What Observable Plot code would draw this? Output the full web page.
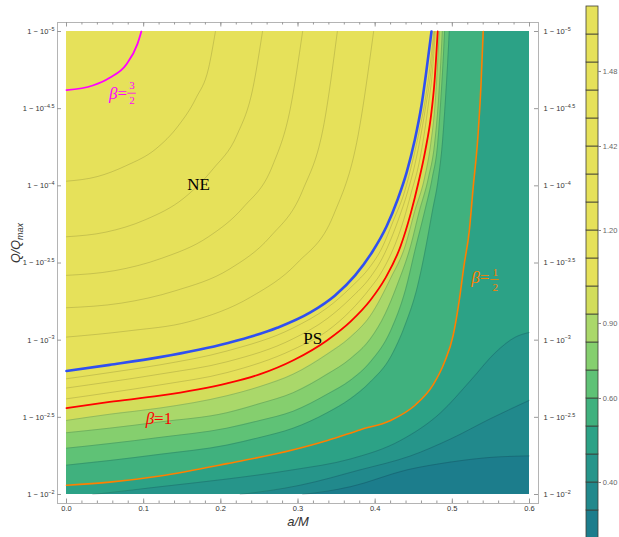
<!DOCTYPE html>
<html><head><meta charset="utf-8">
<script src="https://cdn.jsdelivr.net/npm/d3@7"></script>
<script src="https://cdn.jsdelivr.net/npm/@observablehq/plot@0.6"></script>
<style>
body{margin:0;background:#fff;}
#wrap{position:relative;width:619px;height:537px;overflow:hidden;}
#main{position:absolute;left:0;top:0;}
#bar{position:absolute;left:580px;top:0;}
</style></head><body><div id="wrap"><div id="main"></div><div id="bar"></div></div>
<script>
// ---------- axes ----------
const xDomain = [0, 0.6];
const yDomain = [2, 5];               // exponent u in Q/Qmax = 1 - 10^(-u)
const xTicks = [0, 0.1, 0.2, 0.3, 0.4, 0.5, 0.6];
const xTickLabels = ["0.0", "0.1", "0.2", "0.3", "0.4", "0.5", "0.6"];
const xMinorTicks = d3.range(0, 0.6001, 0.02);
const yTicks = [2, 2.5, 3, 3.5, 4, 4.5, 5];
const yTickLabels = ["1 − 10^{−2}", "1 − 10^{−2.5}", "1 − 10^{−3}", "1 − 10^{−3.5}", "1 − 10^{−4}", "1 − 10^{−4.5}", "1 − 10^{−5}"];

// ---------- contour curves (a/M , u) ----------
const magentaA = [0, 0.034, 0.056, 0.078, 0.092, 0.097];
const magentaU = [4.62, 4.65, 4.70, 4.79, 4.92, 5.0];

const t1A = [0, 0.040, 0.077, 0.116, 0.145, 0.168, 0.184, 0.193];
const t1U = [4.03, 4.06, 4.13, 4.24, 4.39, 4.57, 4.76, 5.0];
const t2A = [0, 0.051, 0.102, 0.152, 0.190, 0.221, 0.241, 0.254];
const t2U = [3.67, 3.70, 3.78, 3.92, 4.11, 4.33, 4.62, 5.0];
const t3A = [0, 0.062, 0.123, 0.184, 0.229, 0.267, 0.290, 0.306];
const t3U = [3.42, 3.45, 3.53, 3.67, 3.86, 4.13, 4.50, 5.0];
const t4A = [0, 0.071, 0.141, 0.211, 0.264, 0.306, 0.334, 0.351];
const t4U = [3.21, 3.24, 3.32, 3.46, 3.67, 3.97, 4.41, 5.0];
const t5A = [0, 0.080, 0.159, 0.239, 0.299, 0.346, 0.378, 0.398];
const t5U = [3.02, 3.06, 3.12, 3.28, 3.50, 3.81, 4.33, 5.0];

const blueA = [0, 0.056, 0.121, 0.208, 0.273, 0.316, 0.348, 0.374, 0.396, 0.415, 0.429, 0.441, 0.451, 0.460, 0.466, 0.473];
const blueU = [2.80, 2.84, 2.89, 2.98, 3.08, 3.18, 3.29, 3.42, 3.57, 3.74, 3.91, 4.09, 4.29, 4.52, 4.73, 5.0];

const t6A = [0, 0.056, 0.121, 0.208, 0.294, 0.338, 0.368, 0.394, 0.407, 0.424, 0.438, 0.448, 0.457, 0.464, 0.470, 0.476];
const t6U = [2.75, 2.79, 2.84, 2.93, 3.08, 3.21, 3.34, 3.48, 3.58, 3.78, 3.96, 4.15, 4.35, 4.53, 4.73, 5.0];
const t7A = [0, 0.056, 0.121, 0.208, 0.294, 0.338, 0.368, 0.394, 0.407, 0.430, 0.442, 0.452, 0.460, 0.466, 0.472, 0.477];
const t7U = [2.69, 2.73, 2.78, 2.86, 3.01, 3.14, 3.27, 3.41, 3.51, 3.78, 3.96, 4.15, 4.35, 4.53, 4.73, 5.0];
const t8A = [0, 0.056, 0.121, 0.208, 0.294, 0.338, 0.368, 0.394, 0.407, 0.437, 0.447, 0.457, 0.464, 0.469, 0.474, 0.478];
const t8U = [2.62, 2.66, 2.71, 2.79, 2.94, 3.06, 3.19, 3.34, 3.43, 3.78, 3.96, 4.15, 4.35, 4.53, 4.73, 5.0];

const redA = [0, 0.056, 0.121, 0.208, 0.251, 0.294, 0.338, 0.368, 0.394, 0.413, 0.433, 0.446, 0.456, 0.465, 0.472, 0.477, 0.481];
const redU = [2.56, 2.60, 2.64, 2.72, 2.78, 2.87, 3.00, 3.12, 3.26, 3.40, 3.61, 3.82, 4.02, 4.23, 4.44, 4.68, 5.0];

const c1A = [0, 0.056, 0.121, 0.208, 0.251, 0.294, 0.338, 0.368, 0.394, 0.420, 0.439, 0.451, 0.464, 0.472, 0.478, 0.481, 0.483];
const c1U = [2.48, 2.52, 2.56, 2.64, 2.70, 2.78, 2.91, 3.02, 3.16, 3.40, 3.61, 3.83, 4.05, 4.27, 4.55, 4.80, 5.0];
const c2A = [0, 0.056, 0.121, 0.208, 0.251, 0.294, 0.338, 0.368, 0.394, 0.413, 0.428, 0.446, 0.457, 0.469, 0.477, 0.482, 0.485, 0.487];
const c2U = [2.40, 2.43, 2.47, 2.53, 2.59, 2.66, 2.78, 2.88, 3.01, 3.17, 3.35, 3.61, 3.83, 4.05, 4.27, 4.55, 4.80, 5.0];
const c3A = [0, 0.056, 0.121, 0.208, 0.251, 0.294, 0.338, 0.368, 0.394, 0.420, 0.439, 0.453, 0.464, 0.474, 0.481, 0.485, 0.488, 0.490];
const c3U = [2.30, 2.33, 2.37, 2.43, 2.48, 2.54, 2.65, 2.74, 2.86, 3.06, 3.32, 3.61, 3.83, 4.05, 4.27, 4.55, 4.80, 5.0];
const c4A = [0, 0.056, 0.121, 0.208, 0.251, 0.294, 0.338, 0.368, 0.394, 0.420, 0.439, 0.455, 0.466, 0.474, 0.482, 0.487, 0.491, 0.494, 0.496];
const c4U = [2.19, 2.22, 2.26, 2.32, 2.37, 2.43, 2.53, 2.62, 2.73, 2.89, 3.10, 3.35, 3.61, 3.83, 4.05, 4.27, 4.55, 4.80, 5.0];

const orangeA = [0, 0.056, 0.121, 0.208, 0.294, 0.338, 0.381, 0.420, 0.452, 0.475, 0.490, 0.501, 0.509, 0.515, 0.522, 0.527, 0.533, 0.537, 0.540];
const orangeU = [2.06, 2.08, 2.12, 2.20, 2.29, 2.35, 2.42, 2.48, 2.58, 2.71, 2.86, 3.03, 3.26, 3.48, 3.71, 3.99, 4.31, 4.64, 5.0];

const c6A = [0.034, 0.121, 0.208, 0.294, 0.368, 0.433, 0.485, 0.524, 0.556, 0.582, 0.6];
const c6U = [2.0, 2.05, 2.10, 2.16, 2.23, 2.35, 2.53, 2.74, 2.92, 3.02, 3.05];
const c7A = [0.225, 0.303, 0.381, 0.446, 0.498, 0.549, 0.6];
const c7U = [2.0, 2.06, 2.16, 2.25, 2.36, 2.49, 2.61];
const c8A = [0.306, 0.368, 0.442, 0.498, 0.549, 0.6];
const c8U = [2.0, 2.05, 2.16, 2.21, 2.24, 2.25];

// band colours, lowest value -> highest
const bandColors = ["#1c7d8c", "#21898c", "#26958a", "#2ca286", "#40b17e", "#5fc276", "#85cf6e", "#aad86a", "#d2dd5b", "#e6e15a"];

// ---------- labels ----------
const regionText = ["NE", "PS"];
const regionA = [0.171, 0.319];
const regionU = [4.01, 3.01];
const betaText = ["*β*=", "*β*=1", "*β*="];
const betaA = [0.0785, 0.137, 0.548];
const betaU = [4.60, 2.49, 3.405];
const betaColors = ["#ff00ff", "#ff0000", "#ff8000"];
const fracNum = ["3", "1"];
const fracDen = ["2", "2"];
const fracA = [0.0850, 0.5555];
const fracU = [4.60, 3.393];
const fracColors = ["#ff00ff", "#ff8000"];

// ---------- colour bar ----------
const cbColors = ["#1c7d8c", "#21898c", "#26958a", "#2ca286", "#40b17e", "#5fc276", "#85cf6e", "#aad86a", "#d2dd5b",
  "#e6e15a", "#e6e15a", "#e6e15a", "#e6e15a", "#e6e15a", "#e6e15a", "#e6e15a", "#e6e15a", "#e6e15a", "#e6e15a"]; // bottom -> top
const cbTickPos = [16.68, 14.0, 11.0, 7.68, 5.0, 2.0];
const cbTickLabels = ["1.48", "1.42", "1.20", "0.90", "0.60", "0.40"];

// ---------- build ----------
const W = 580, H = 537;
const M = {left: 57, right: 42, top: 22, bottom: 34};
const frameW = W - M.left - M.right, frameH = H - M.top - M.bottom;
const SANS = "'Liberation Sans', Arial, sans-serif";
const SERIF = "'Liberation Serif', 'Times New Roman', serif";
const tickColor = "#9a9a9a", labelColor = "#333";

function toPts(A, U) { return A.map((a, i) => ({a, u: U[i], top: yDomain[1]})); }
function fillPts(A, U) {
  const p = toPts(A, U);
  if (U[0] === yDomain[0] && A[0] > xDomain[0]) p.unshift({a: xDomain[0], u: yDomain[0], top: yDomain[1]});
  return p;
}

const boundaries = [[c8A, c8U], [c7A, c7U], [c6A, c6U], [orangeA, orangeU], [c4A, c4U], [c3A, c3U], [c2A, c2U], [c1A, c1U], [redA, redU]];
const thinLines = [[t1A, t1U], [t2A, t2U], [t3A, t3U], [t4A, t4U], [t5A, t5U], [t6A, t6U], [t7A, t7U], [t8A, t8U],
  [c1A, c1U], [c2A, c2U], [c3A, c3U], [c4A, c4U], [c6A, c6U], [c7A, c7U], [c8A, c8U]];

const marks = [];
marks.push(Plot.rect([{x1: xDomain[0], x2: xDomain[1], y1: yDomain[0], y2: yDomain[1]}], {x1: "x1", x2: "x2", y1: "y1", y2: "y2", fill: bandColors[0]}));
boundaries.forEach((b, i) => marks.push(Plot.areaY(fillPts(b[0], b[1]), {x: "a", y1: "u", y2: "top", fill: bandColors[i + 1], curve: "monotone-x"})));
thinLines.forEach(b => marks.push(Plot.line(toPts(b[0], b[1]), {x: "a", y: "u", stroke: "#000", strokeOpacity: 0.2, strokeWidth: 0.7, curve: "monotone-x"})));
marks.push(Plot.line(toPts(orangeA, orangeU), {x: "a", y: "u", stroke: "#ff8000", strokeWidth: 1.6, curve: "monotone-x"}));
marks.push(Plot.line(toPts(redA, redU), {x: "a", y: "u", stroke: "#ff0000", strokeWidth: 1.8, curve: "monotone-x"}));
marks.push(Plot.line(toPts(blueA, blueU), {x: "a", y: "u", stroke: "#3050f0", strokeWidth: 2.6, curve: "monotone-x"}));
marks.push(Plot.line(toPts(magentaA, magentaU), {x: "a", y: "u", stroke: "#ff00ff", strokeWidth: 1.8, curve: "monotone-x"}));

// region labels
marks.push(Plot.text(regionText, {x: (d, i) => regionA[i], y: (d, i) => regionU[i], text: d => d, fontFamily: SERIF, fontSize: 17, fill: "#000"}));
betaText.forEach((t, i) => marks.push(Plot.text([t], {x: () => betaA[i], y: () => betaU[i], text: d => d, textAnchor: "end", fontFamily: SERIF, fontSize: 17, fill: betaColors[i]})));
fracNum.forEach((t, i) => {
  marks.push(Plot.text([fracNum[i]], {x: () => fracA[i], y: () => fracU[i], dy: -7.5, text: d => d, fontFamily: SERIF, fontSize: 11, fill: fracColors[i]}));
  marks.push(Plot.ruleY([fracU[i]], {y: d => d, x1: () => fracA[i] - 0.0055, x2: () => fracA[i] + 0.0055, stroke: fracColors[i], strokeWidth: 0.8}));
  marks.push(Plot.text([fracDen[i]], {x: () => fracA[i], y: () => fracU[i], dy: 7.5, text: d => d, fontFamily: SERIF, fontSize: 11, fill: fracColors[i]}));
});

// frame & ticks
marks.push(Plot.frame({stroke: "#b4b4b4", strokeWidth: 1}));
marks.push(Plot.tickX(xTicks, {x: d => d, insetTop: frameH - 4.5, stroke: tickColor}));
marks.push(Plot.tickX(xTicks, {x: d => d, insetBottom: frameH - 4.5, stroke: tickColor}));
marks.push(Plot.tickX(xMinorTicks, {x: d => d, insetTop: frameH - 2.5, stroke: tickColor}));
marks.push(Plot.tickX(xMinorTicks, {x: d => d, insetBottom: frameH - 2.5, stroke: tickColor}));
marks.push(Plot.tickY(yTicks, {y: d => d, insetRight: frameW - 4, stroke: tickColor}));
marks.push(Plot.tickY(yTicks, {y: d => d, insetLeft: frameW - 4, stroke: tickColor}));
marks.push(Plot.text(xTicks, {x: d => d, frameAnchor: "bottom", dy: 7.5, text: (d, i) => xTickLabels[i], fontSize: 7.5, fill: labelColor}));
marks.push(Plot.text(yTicks, {y: d => d, frameAnchor: "left", dx: -3, textAnchor: "end", text: (d, i) => yTickLabels[i], fontSize: 7.5, fill: labelColor}));
marks.push(Plot.text(yTicks, {y: d => d, frameAnchor: "right", dx: 5, textAnchor: "start", text: (d, i) => yTickLabels[i], fontSize: 7.5, fill: labelColor}));
marks.push(Plot.text(["a/M"], {frameAnchor: "bottom", dy: 22, text: d => d, fontSize: 13, fontStyle: "italic", fill: labelColor}));
marks.push(Plot.text(["Q/Q_{max}"], {frameAnchor: "left", dx: -42, rotate: -90, text: d => d, fontSize: 12.5, fontStyle: "italic", fill: labelColor}));

const mainSvg = Plot.plot({
  width: W, height: H,
  marginLeft: M.left, marginRight: M.right, marginTop: M.top, marginBottom: M.bottom,
  x: {domain: xDomain, inset: 9, axis: null},
  y: {domain: yDomain, inset: 9, axis: null},
  style: {fontFamily: SANS, background: "white", overflow: "visible"},
  marks
});
document.getElementById("main").appendChild(mainSvg);

const bins = cbColors.map((c, i) => ({lo: i, hi: i + 1, c}));
const barSvg = Plot.plot({
  width: 39, height: 537, margin: 0,
  x: {domain: [0, 1], range: [6, 18], axis: null},
  y: {domain: [0, cbColors.length], range: [538, 6], axis: null},
  color: {type: "identity"},
  style: {fontFamily: SANS, background: "white", overflow: "visible"},
  marks: [
    Plot.rect(bins, {x1: () => 0, x2: () => 1, y1: "lo", y2: "hi", fill: "c", stroke: "#3e3e36", strokeWidth: 0.8}),
    Plot.ruleY(cbTickPos, {y: d => d, x1: () => 1, x2: () => 1.25, stroke: "#888"}),
    Plot.text(cbTickPos, {y: d => d, x: () => 1.36, text: (d, i) => cbTickLabels[i], textAnchor: "start", fontSize: 7.5, fill: "#666"})
  ]
});
document.getElementById("bar").appendChild(barSvg);

// rich text: ^{sup}, _{sub}, *italic*
function richify(root) {
  const NS = "http://www.w3.org/2000/svg";
  const els = Array.from(root.querySelectorAll("text, tspan")).filter(el => el.children.length === 0 && /(\^\{|_\{|\*)/.test(el.textContent));
  for (const el of els) {
    const s = el.textContent;
    const fs = parseFloat(getComputedStyle(el).fontSize) || 10;
    el.textContent = "";
    const parts = s.split(/(\^\{[^}]*\}|_\{[^}]*\}|\*[^*]+\*)/).filter(p => p);
    let shift = 0;
    for (const p of parts) {
      const t = document.createElementNS(NS, "tspan");
      let target = 0;
      if (p.startsWith("^{")) { t.textContent = p.slice(2, -1); t.setAttribute("font-size", (fs * 0.72) + "px"); target = -0.42 * fs; }
      else if (p.startsWith("_{")) { t.textContent = p.slice(2, -1); t.setAttribute("font-size", (fs * 0.72) + "px"); target = 0.3 * fs; }
      else if (p.startsWith("*")) { t.textContent = p.slice(1, -1); t.setAttribute("font-style", "italic"); }
      else t.textContent = p;
      if (target !== shift) { t.setAttribute("dy", target - shift); shift = target; }
      el.appendChild(t);
    }
  }
}
richify(mainSvg);
</script>
</body></html>
